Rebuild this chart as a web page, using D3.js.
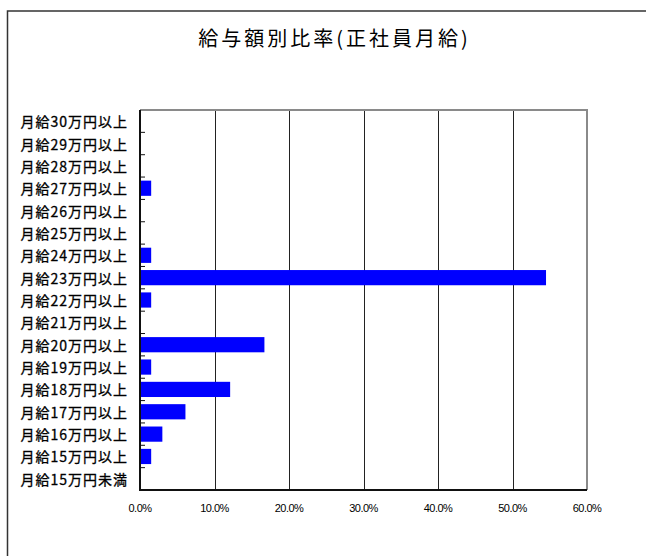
<!DOCTYPE html>
<html><head><meta charset="utf-8">
<script src="https://cdn.jsdelivr.net/npm/d3@7/dist/d3.min.js"></script>
<style>
html,body{margin:0;padding:0;background:#fff;}
svg{display:block;}
</style></head>
<body>
<script>
const title = "給与額別比率(正社員月給)";
const categories = ["月給30万円以上","月給29万円以上","月給28万円以上","月給27万円以上","月給26万円以上","月給25万円以上","月給24万円以上","月給23万円以上","月給22万円以上","月給21万円以上","月給20万円以上","月給19万円以上","月給18万円以上","月給17万円以上","月給16万円以上","月給15万円以上","月給15万円未満"];
const values = [0,0,0,1.5,0,0,1.5,54.5,1.5,0,16.7,1.5,12.1,6.1,3.0,1.5,0];
const xTicks = [0,10,20,30,40,50,60];

const W = 646, H = 556;
const svg = d3.select("body").append("svg").attr("width", W).attr("height", H);
svg.append("rect").attr("width", W).attr("height", H).attr("fill", "#fff");

// chart area border (extends past the window on right/bottom)
svg.append("rect").attr("x", 7.5).attr("y", 11).attr("width", 700).attr("height", 600)
  .attr("fill", "none").attr("stroke", "#333").attr("stroke-width", 1.5);

const L = 140, R = 587, T = 110, B = 490;
const x = d3.scaleLinear().domain([0, 60]).range([L, R]);
const pad = 0.32;
const y = d3.scaleBand().domain(categories).range([T, B]).paddingInner(pad).paddingOuter(pad / 2);

// gridlines
svg.append("g").selectAll("line").data(xTicks.slice(1, -1)).join("line")
  .attr("x1", d => Math.round(x(d)) + 0.5).attr("x2", d => Math.round(x(d)) + 0.5)
  .attr("y1", T).attr("y2", B).attr("stroke", "#222").attr("stroke-width", 1);

// plot area border (grey) top & right
svg.append("path").attr("d", `M${L},${T}H${R}V${B}`).attr("fill", "none")
  .attr("stroke", "#8a8a8a").attr("stroke-width", 2);

// bars
svg.append("g").selectAll("rect").data(categories).join("rect")
  .attr("x", x(0)).attr("y", d => y(d))
  .attr("width", (d, i) => x(values[i]) - x(0))
  .attr("height", y.bandwidth())
  .attr("fill", "#0000ff");

// axes lines
svg.append("line").attr("x1", L).attr("x2", L).attr("y1", T).attr("y2", B + 1)
  .attr("stroke", "#111").attr("stroke-width", 2);
svg.append("line").attr("x1", L - 1).attr("x2", R).attr("y1", B).attr("y2", B)
  .attr("stroke", "#111").attr("stroke-width", 2);

// y ticks at band boundaries (inside)
const step = y.step();
const bounds = categories.map(c => y(c) - (step - y.bandwidth()) / 2);
svg.append("g").selectAll("line").data(bounds.slice(1)).join("line")
  .attr("x1", L).attr("x2", L + 5)
  .attr("y1", d => d).attr("y2", d => d)
  .attr("stroke", "#111").attr("stroke-width", 1);

// y labels
svg.append("g").selectAll("text").data(categories).join("text")
  .attr("x", 128).attr("y", d => y(d) + y.bandwidth() / 2)
  .attr("text-anchor", "end").attr("dominant-baseline", "central")
  .attr("font-family", "'Noto Sans CJK JP', sans-serif").attr("font-size", 14)
  .attr("letter-spacing", "1px")
  .attr("stroke", "#000").attr("stroke-width", 0.3)
  .attr("fill", "#000").text(d => d);

// x labels
svg.append("g").selectAll("text").data(xTicks).join("text")
  .attr("x", d => x(d)).attr("y", 508)
  .attr("text-anchor", "middle").attr("dominant-baseline", "central")
  .attr("font-family", "'Liberation Sans', Arial, sans-serif").attr("font-size", 11)
  .attr("letter-spacing", "-0.5px")
  .attr("fill", "#000").text(d => d.toFixed(1) + "%");

// title
svg.append("text").attr("x", 334.5).attr("y", 37)
  .attr("text-anchor", "middle").attr("dominant-baseline", "central")
  .attr("font-family", "'Noto Sans CJK JP', sans-serif").attr("font-size", 20)
  .attr("letter-spacing", "3px")
  .attr("fill", "#000").text(title);
</script>
</body></html>
